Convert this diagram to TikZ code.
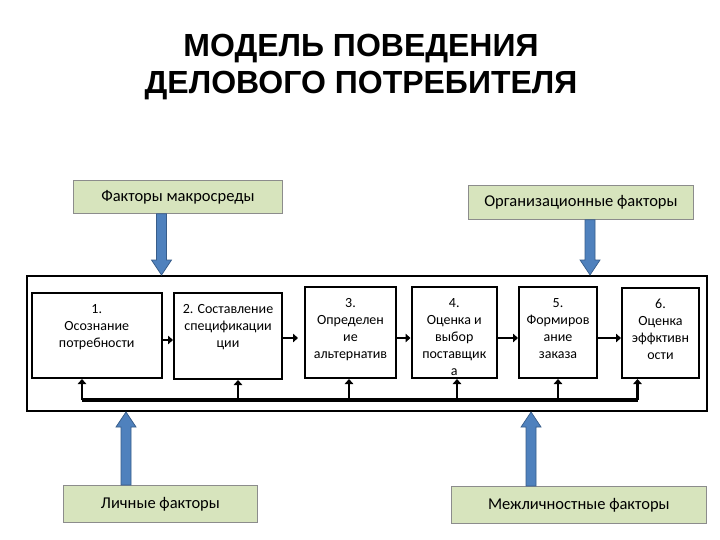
\documentclass[tikz,border=0pt]{standalone}
\usepackage{fontspec}
\setmainfont{Carlito}
\newfontfamily\titlefont{Liberation Sans}
\usetikzlibrary{arrows.meta,calc}
\definecolor{greenfill}{HTML}{D7E4BD}
\definecolor{greenline}{HTML}{8C8C8C}
\definecolor{bluefill}{HTML}{4F81BD}
\definecolor{blueline}{HTML}{385D8A}
\tikzset{
  proc/.style={draw=black, line width=2pt, inner sep=0pt, anchor=north west, fill=white},
  outerbox/.style={draw=black, line width=2pt, inner sep=0pt, anchor=north west},
  factor/.style={draw=greenline, line width=0.8pt, fill=greenfill, inner sep=0pt, anchor=north west, font=\fontsize{16.5}{19}\selectfont},
  flow/.style={line width=2.5pt, -{Triangle[length=5pt,width=8.5pt]}},
  busline/.style={line width=3.5pt},
  blockarrow/.style={fill=bluefill, draw=blueline, line width=0.7pt},
  titletext/.style={font=\titlefont\bfseries\fontsize{32}{37}\selectfont, align=center}
}
\newcommand\boxtext[3]{\parbox[c][#2pt][t]{#1pt}{\centering\fontsize{14}{17}\selectfont\rule{0pt}{20pt}#3\par}}
% block arrow: start, tip, direction (1 = downward on page, -1 = upward)
\newcommand\blockarr[3]{%
  \path[blockarrow] let \p1=(#1), \p2=(#2) in
    (\x1-5pt,\y1) -- (\x1-5pt,{\y2+#3*15pt}) -- (\x1-10pt,{\y2+#3*15pt}) -- (\x1,\y2)
    -- (\x1+10pt,{\y2+#3*15pt}) -- (\x1+5pt,{\y2+#3*15pt}) -- (\x1+5pt,\y1) -- cycle;}
\begin{document}
\begin{tikzpicture}[x=1pt,y=-1pt]
\useasboundingbox (0,0) rectangle (720,540);
\fill[white] (0,0) rectangle (720,540);

\node[titletext] (title) at (361,67) {МОДЕЛЬ ПОВЕДЕНИЯ\\ДЕЛОВОГО ПОТРЕБИТЕЛЯ};

% factor boxes
\node[factor, minimum width=209pt, minimum height=33pt] (g1) at (73,180) {Факторы макросреды};
\node[factor, minimum width=225pt, minimum height=34pt] (g2) at (468,185) {Организационные факторы};
\node[factor, minimum width=194pt, minimum height=37pt] (g3) at (63,485) {Личные факторы};
\node[factor, minimum width=255pt, minimum height=37pt] (g4) at (451,486) {Межличностные факторы};

% outer frame
\node[outerbox, minimum width=680pt, minimum height=135pt] (outer) at (26,275) {};

% process boxes
\node[proc] (b1) at (31,292) {\boxtext{129.5}{85}{1.\\Осознание\\потребности}};
\node[proc] (b2) at (173,292) {\boxtext{108}{86}{2. Составление\\спецификации\\ции}};
\node[proc] (b3) at (304,286) {\boxtext{91}{91}{3.\\Определен\\ие\\альтернатив}};
\node[proc] (b4) at (410.5,286) {\boxtext{85.5}{91}{4.\\Оценка и\\выбор\\поставщик\\а}};
\node[proc] (b5) at (518,286) {\boxtext{78}{91}{5.\\Формиров\\ание\\заказа}};
\node[proc] (b6) at (621,287) {\boxtext{77}{90}{6.\\Оценка\\эффктивн\\ости}};

% horizontal flow arrows
\coordinate (h1) at (0,340);
\coordinate (h2) at (0,338);
\draw[flow] (b1.east |- h1) -- (b2.west |- h1);
\draw[flow] (b2.east |- h2) -- ([xshift=-6pt]b3.west |- h2);
\draw[flow] (b3.east |- h2) -- (b4.west |- h2);
\draw[flow] (b4.east |- h2) -- (b5.west |- h2);
\draw[flow] (b5.east |- h2) -- (b6.west |- h2);

% feedback bus
\coordinate (busL) at (82,400);
\coordinate (busR) at (637.5,400);
\coordinate (v2) at (238,400);
\coordinate (v3) at (349,400);
\coordinate (v4) at (457,400);
\coordinate (v5) at (558,400);
\draw[busline] (busL) -- (busR);
\draw[flow] (busL) -- (b1.south -| busL);
\draw[flow] (v2) -- (b2.south -| v2);
\draw[flow] (v3) -- (b3.south -| v3);
\draw[flow] (v4) -- (b4.south -| v4);
\draw[flow] (v5) -- (b5.south -| v5);
\draw[flow] (busR) -- (b6.south -| busR);

% block arrows
\coordinate (a1) at (161.5,0);
\coordinate (a2) at (590,0);
\coordinate (a3) at (126,0);
\coordinate (a4) at (531,0);
\blockarr{g1.south -| a1}{outer.north -| a1}{1}
\blockarr{g2.south -| a2}{outer.north -| a2}{1}
\blockarr{g3.north -| a3}{outer.south -| a3}{-1}
\blockarr{g4.north -| a4}{outer.south -| a4}{-1}
\end{tikzpicture}
\end{document}
